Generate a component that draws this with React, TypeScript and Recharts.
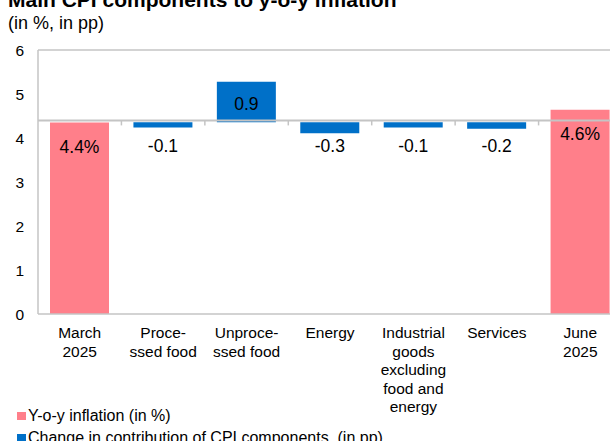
import { BarChart, Bar, Cell, XAxis, YAxis, ReferenceLine, LabelList, Legend } from "recharts";

// categories, split into the lines they wrap to under the axis
const categoryLines = [
  ["March", "2025"],
  ["Proce-", "ssed food"],
  ["Unproce-", "ssed food"],
  ["Energy"],
  ["Industrial", "goods", "excluding", "food and", "energy"],
  ["Services"],
  ["June", "2025"],
];

// y-o-y inflation level (in %), only the two end bars
const inflation = [4.35, null, null, null, null, null, 4.64];
// change in contribution of CPI components (in pp)
const contribution = [null, -0.12, 0.92, -0.25, -0.12, -0.15, null];
// labels as printed on the bars
const barLabels = ["4.4%", "-0.1", "0.9", "-0.3", "-0.1", "-0.2", "4.6%"];
const yTicks = [0, 1, 2, 3, 4, 5, 6];

// level where the change bars hang from, and where the category line crosses
const BASE = 4.36;
const CROSS = 4.4;

const PINK = "#FF7F8A";
const BLUE = "#0070C8";
const GRID = "#C4C4C4";
const FONT = '"Liberation Sans", Arial, sans-serif';

const data = categoryLines.map((lines, i) => {
  const level = inflation[i];
  const delta = contribution[i];
  const range =
    level != null
      ? [0, level]
      : [Math.min(BASE, BASE + (delta as number)), Math.max(BASE, BASE + (delta as number))];
  return { name: lines.join(" "), range, isLevel: level != null };
});

function CategoryTick(props: any) {
  const { x, payload } = props;
  const lines = categoryLines[payload.index] || [payload.value];
  return (
    <text x={x} y={314} textAnchor="middle" fontSize={15.5} fill="#000" fontFamily={FONT}>
      {lines.map((l, i) => (
        <tspan key={i} x={x} dy={i === 0 ? 24 : 18.5}>
          {l}
        </tspan>
      ))}
    </text>
  );
}

// category axis drawn across at 4.4 with ticks between the categories
function CrossLine(props: any) {
  const { x1, x2, y1 } = props;
  const n = categoryLines.length;
  const step = (x2 - x1) / n;
  const ticks = [];
  for (let k = 1; k < n; k++) {
    const tx = x1 + k * step;
    ticks.push(<line key={k} x1={tx} x2={tx} y1={y1} y2={y1 + 5} stroke={GRID} strokeWidth={1.5} />);
  }
  return (
    <g>
      <line x1={x1} x2={x2} y1={y1} y2={y1} stroke={GRID} strokeWidth={2} />
      {ticks}
    </g>
  );
}

function BarLabel(props: any) {
  const { x, y, width, height, index } = props;
  const top = Math.min(y, y + height);
  const bottom = Math.max(y, y + height);
  const delta = contribution[index];
  const cy = delta != null && delta > 0 ? (top + bottom) / 2 + 2 : top + 24;
  return (
    <text
      x={x + width / 2}
      y={cy}
      textAnchor="middle"
      dominantBaseline="central"
      fontSize={17.5}
      fill="#000"
      fontFamily={FONT}
    >
      {barLabels[index]}
    </text>
  );
}

function LegendBox() {
  const items = [
    { color: PINK, text: "Y-o-y inflation (in %)" },
    { color: BLUE, text: "Change in contribution of CPI components  (in pp)" },
  ];
  return (
    <div style={{ fontFamily: FONT, fontSize: 16, color: "#000" }}>
      {items.map((it) => (
        <div key={it.text} style={{ position: "relative", height: 22, lineHeight: "22px", paddingLeft: 28, whiteSpace: "pre" }}>
          <span
            style={{ position: "absolute", left: 17, top: 7.5, width: 9, height: 8, backgroundColor: it.color }}
          />
          {it.text}
        </div>
      ))}
    </div>
  );
}

export default function App() {
  return (
    <div style={{ position: "absolute", left: 0, top: 0, width: 610, height: 441, overflow: "hidden", background: "#fff" }}>
      <div
        style={{
          position: "absolute",
          left: 8,
          top: -11.5,
          fontFamily: FONT,
          fontWeight: "bold",
          fontSize: 21,
          lineHeight: "21px",
          whiteSpace: "nowrap",
        }}
      >
        Main CPI components to y-o-y inflation
      </div>
      <div
        style={{
          position: "absolute",
          left: 8,
          top: 14.3,
          fontFamily: FONT,
          fontSize: 18,
          lineHeight: "18px",
          whiteSpace: "nowrap",
        }}
      >
        (in %, in pp)
      </div>
      <div style={{ position: "absolute", left: 0, top: 0 }}>
        <BarChart width={622} height={441} data={data} margin={{ top: 50, right: 0, left: 0, bottom: 0 }} barSize={59}>
          <XAxis
            dataKey="name"
            interval={0}
            height={127}
            tickLine={false}
            axisLine={{ stroke: GRID, strokeWidth: 1.5 }}
            tick={<CategoryTick />}
          />
          <YAxis
            domain={[0, 6]}
            ticks={yTicks}
            interval={0}
            width={38}
            tickLine={false}
            axisLine={{ stroke: GRID, strokeWidth: 1.5 }}
            tick={{ fontSize: 15.5, fill: "#000", fontFamily: FONT, dx: -6 }}
          />
          <ReferenceLine y={6} stroke={GRID} strokeWidth={1.5} />
          <ReferenceLine y={CROSS} shape={<CrossLine />} />
          <Legend
            verticalAlign="middle"
            align="center"
            layout="horizontal"
            content={<LegendBox />}
            wrapperStyle={{ position: "absolute", left: 0, top: 404.5, width: 500, height: 44 }}
          />
          <Bar dataKey="range" isAnimationActive={false}>
            {data.map((d, i) => (
              <Cell key={i} fill={d.isLevel ? PINK : BLUE} />
            ))}
            <LabelList dataKey="range" content={<BarLabel />} />
          </Bar>
        </BarChart>
      </div>
    </div>
  );
}
